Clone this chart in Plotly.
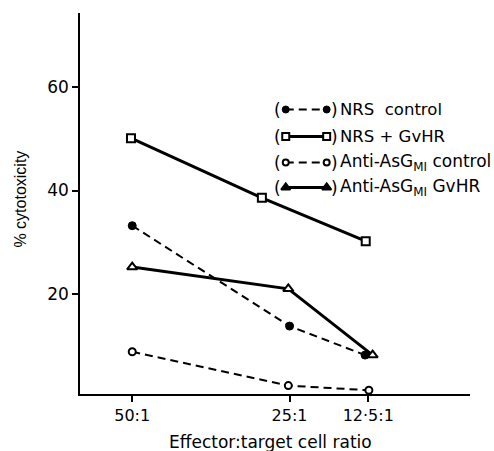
import plotly.graph_objects as go

# Data
tick_vals = [50, 25, 12.5]
tick_text = ["50:1", "25:1", "12·5:1"]
y_ticks = [20, 40, 60]

nrs_ctrl_x = [50, 25, 13.0]
nrs_ctrl_y = [33.2, 13.8, 8.2]
nrs_gvhr_x = [50.2, 29.4, 12.9]
nrs_gvhr_y = [50.1, 38.6, 30.2]
anti_ctrl_x = [50, 25.2, 12.4]
anti_ctrl_y = [8.85, 2.3, 1.4]
anti_gvhr_x = [50, 25.2, 11.8]
anti_gvhr_y = [25.2, 21.0, 8.2]

legend_names = ["NRS  control", "NRS + GvHR", "Anti-AsG<sub>MI</sub> control", "Anti-AsG<sub>MI</sub> GvHR"]

FONT = "DejaVu Sans"
PL, PR, PT, PB = 79.5, 470, 13, 394  # plot area in page pixels
PW, PH = PR - PL, PB - PT

fig = go.Figure()

styles = [
    dict(dash="8px,5px", width=2, symbol="circle", size=8, fill="black", lw=1),
    dict(dash="solid", width=3, symbol="square", size=8, fill="white", lw=2),
    dict(dash="8px,5px", width=2, symbol="circle", size=7, fill="white", lw=2),
    dict(dash="solid", width=3, symbol="triangle-up", size=9, fill="white", lw=2),
]
series = [(nrs_ctrl_x, nrs_ctrl_y), (nrs_gvhr_x, nrs_gvhr_y), (anti_ctrl_x, anti_ctrl_y), (anti_gvhr_x, anti_gvhr_y)]

for (xs, ys), s in zip(series, styles):
    fig.add_trace(go.Scatter(
        x=xs, y=ys, mode="lines+markers",
        line=dict(color="black", width=s["width"], dash=s["dash"]),
        marker=dict(symbol=s["symbol"], size=s["size"], color=s["fill"],
                    line=dict(color="black", width=s["lw"])),
        showlegend=False, cliponaxis=False,
    ))

def px(x):
    return (x - PL) / PW

def py(y):
    return (PB - y) / PH

annotations = []
leg_y = [109.5, 136.5, 162.5, 187.5]
for i, s in enumerate(styles):
    y = leg_y[i]
    sym = s["symbol"]
    fig.add_trace(go.Scatter(
        x=[285.5, 326.5], y=[y, y], xaxis="x2", yaxis="y2", mode="lines+markers",
        line=dict(color="black", width=s["width"], dash=s["dash"]),
        marker=dict(symbol=sym, size=s["size"] - 1, color=("black" if sym == "triangle-up" else s["fill"]),
                    line=dict(color="black", width=s["lw"])),
        showlegend=False, cliponaxis=False,
    ))
    annotations.append(dict(x=px(277), y=py(y), xref="paper", yref="paper", text="(", showarrow=False,
                            xanchor="center", yanchor="middle",
                            font=dict(family=FONT, size=17, color="black")))
    annotations.append(dict(x=px(334.5), y=py(y), xref="paper", yref="paper", text=")", showarrow=False,
                            xanchor="center", yanchor="middle",
                            font=dict(family=FONT, size=17, color="black")))
    annotations.append(dict(x=px(337.5), y=py(y), xref="paper", yref="paper", text=legend_names[i],
                            showarrow=False, xanchor="left", yanchor="middle",
                            font=dict(family=FONT, size=17 if i >= 2 else 16.5, color="black")))

annotations.append(dict(text="Effector:target cell ratio", x=px(270), y=py(442), xref="paper", yref="paper",
                        showarrow=False, xanchor="center", yanchor="middle",
                        font=dict(family=FONT, size=17, color="black")))
annotations.append(dict(text="% cytotoxicity", x=px(19), y=py(199), xref="paper", yref="paper",
                        showarrow=False, textangle=-90, xanchor="center", yanchor="middle",
                        font=dict(family="Liberation Sans", size=16, color="black")))

fig.update_layout(
    width=494, height=451,
    margin=dict(l=PL, r=494 - PR, t=PT, b=451 - PB, autoexpand=False),
    paper_bgcolor="white", plot_bgcolor="white",
    xaxis=dict(range=[58.3, -3.67], tickvals=tick_vals, ticktext=tick_text, automargin=False,
               showgrid=False, zeroline=False, showline=True, linecolor="black", linewidth=1.5,
               ticks="outside", ticklen=6, tickwidth=1.5, tickcolor="black",
               tickfont=dict(family=FONT, size=16, color="black")),
    yaxis=dict(range=[0.68, 74.3], tickvals=y_ticks, automargin=False,
               showgrid=False, zeroline=False, showline=True, linecolor="black", linewidth=1.5,
               ticks="outside", ticklen=6, tickwidth=1.5, tickcolor="black",
               tickfont=dict(family=FONT, size=17, color="black")),
    xaxis2=dict(overlaying="x", range=[PL, PR], visible=False),
    yaxis2=dict(overlaying="y", range=[PB, PT], visible=False),
    annotations=annotations,
)

fig.write_html("out.html", config={"displayModeBar": False},
               post_script="document.body.style.margin='0';document.body.style.overflow='hidden';")
